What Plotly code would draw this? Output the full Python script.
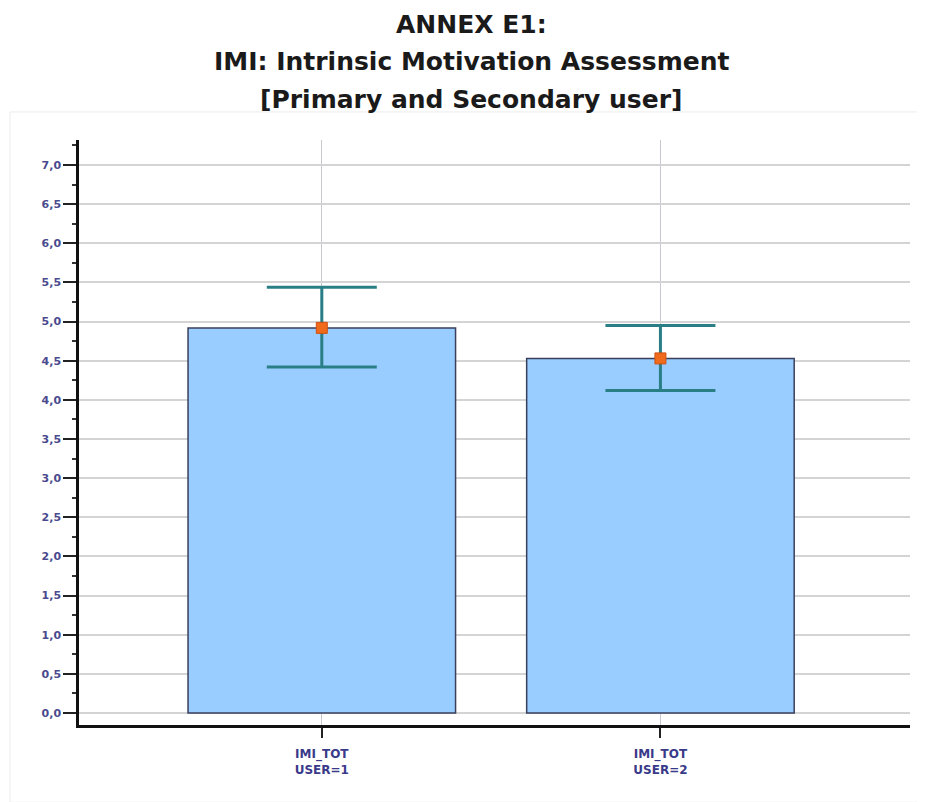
import plotly.graph_objects as go

categories = ["IMI_TOT<br>USER=1", "IMI_TOT<br>USER=2"]
means = [4.92, 4.53]
upper = [5.44, 4.95]
lower = [4.42, 4.12]
title_lines = ["ANNEX E1:", "IMI: Intrinsic Motivation Assessment", "[Primary and Secondary user]"]
ytick_vals = [0.0, 0.5, 1.0, 1.5, 2.0, 2.5, 3.0, 3.5, 4.0, 4.5, 5.0, 5.5, 6.0, 6.5, 7.0]

err_plus = [u - m for u, m in zip(upper, means)]
err_minus = [m - l for m, l in zip(means, lower)]

fig = go.Figure()
fig.add_trace(go.Bar(
    x=categories, y=means, width=0.79,
    marker=dict(color="#99ccff", line=dict(color="#3a3f5c", width=1.5)),
    hoverinfo="skip", showlegend=False,
))
fig.add_trace(go.Scatter(
    x=categories, y=means, mode="markers",
    marker=dict(symbol="square", size=11, color="#f06a1c", line=dict(color="#d05010", width=1)),
    error_y=dict(type="data", symmetric=False, array=err_plus, arrayminus=err_minus,
                 color="#2a7f86", thickness=3, width=55),
    showlegend=False,
))

# plot area (figure coords): x 71..902, y 132..717
annotations = []
for txt, yp in zip(title_lines, [1.198, 1.135, 1.070]):
    annotations.append(dict(
        text="<b>" + txt + "</b>", x=0.472, y=yp, xref="paper", yref="paper",
        showarrow=False, xanchor="center", yanchor="middle",
        font=dict(family="DejaVu Sans", size=25, color="#1a1a1a"),
    ))

fig.update_layout(
    width=925, height=802,
    margin=dict(l=71, r=23, t=132, b=85),
    paper_bgcolor="white", plot_bgcolor="white",
    separators=", ",
    annotations=annotations,
    xaxis=dict(
        range=[-0.717, 1.737], showline=True, linecolor="#111111", linewidth=2.5,
        ticks="outside", ticklen=10, tickwidth=2, tickcolor="#222222",
        ticklabelstandoff=6,
        showgrid=True, gridcolor="#c8c8d0", gridwidth=1,
        tickfont=dict(family="DejaVu Sans", size=12, color="#3a3a8a", weight="bold"),
        zeroline=False, fixedrange=True,
    ),
    yaxis=dict(
        range=[-0.153, 7.32], showline=True, linecolor="#111111", linewidth=2.5,
        tickvals=ytick_vals, tickformat=".1f",
        ticks="outside", ticklen=13, tickwidth=2, tickcolor="#222222",
        minor=dict(dtick=0.25, ticks="outside", ticklen=4, tickwidth=1.5, tickcolor="#333333", showgrid=False),
        showgrid=True, gridcolor="#d4d4d4", gridwidth=1.5,
        tickfont=dict(family="DejaVu Sans", size=11, color="#4a4a8e", weight="bold"),
        zeroline=False, fixedrange=True,
    ),
    shapes=[
        dict(type="rect", xref="paper", yref="paper", x0=-0.083, x1=1.018, y0=-0.132, y1=1.048,
             line=dict(color="#ececec", width=1), fillcolor="rgba(0,0,0,0)", layer="below"),
    ],
)

fig.write_html("out.html")
